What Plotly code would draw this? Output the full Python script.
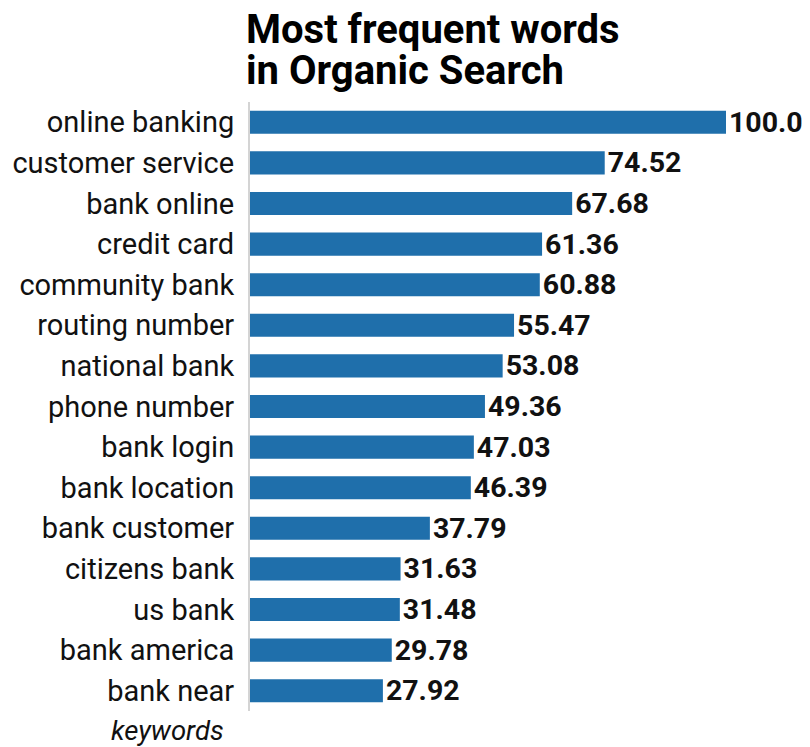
import plotly.graph_objects as go

keywords = [
    "online banking", "customer service", "bank online", "credit card",
    "community bank", "routing number", "national bank", "phone number",
    "bank login", "bank location", "bank customer", "citizens bank",
    "us bank", "bank america", "bank near",
]
scores = [100.0, 74.52, 67.68, 61.36, 60.88, 55.47, 53.08, 49.36,
          47.03, 46.39, 37.79, 31.63, 31.48, 29.78, 27.92]

title_lines = ["Most frequent words", "in Organic Search"]
axis_title = "keywords"

bar_color = "#1f6fab"

fig = go.Figure(
    go.Bar(
        x=scores,
        y=keywords,
        orientation="h",
        marker=dict(color=bar_color, line=dict(width=0)),
        width=0.57,
        text=[str(v) for v in scores],
        textposition="outside",
        constraintext="none",
        textfont=dict(family="Roboto", size=28.5, color="#111111", weight="bold"),
        cliponaxis=False,
    )
)

annotations = []
# two title lines, set tightly one above the other
for line, shift in zip(title_lines, [47, 6]):
    annotations.append(dict(
        text="<b>" + line + "</b>",
        xref="paper", yref="paper",
        x=0, y=1,
        xanchor="left", yanchor="bottom",
        xshift=-6, yshift=shift,
        align="left",
        showarrow=False,
        font=dict(family="Roboto", size=40, color="#000000"),
    ))
annotations.append(dict(
    text="<i>" + axis_title + "</i>",
    xref="paper", yref="paper",
    x=0, y=0,
    xanchor="right", yanchor="top",
    xshift=-24, yshift=-1,
    showarrow=False,
    font=dict(family="Roboto", size=27.5, color="#111111"),
))

fig.update_layout(
    width=810,
    height=747,
    margin=dict(l=248, r=84, t=102, b=36),
    paper_bgcolor="white",
    plot_bgcolor="white",
    showlegend=False,
    font=dict(family="Roboto", color="#111111"),
    xaxis=dict(
        range=[0, 100],
        visible=False,
        showgrid=False,
        zeroline=False,
    ),
    yaxis=dict(
        autorange="reversed",
        showgrid=False,
        zeroline=False,
        showline=True,
        linecolor="#d4d4d4",
        linewidth=2,
        ticks="",
        ticklabelstandoff=8,
        tickfont=dict(family="Roboto", size=29, color="#111111"),
    ),
    annotations=annotations,
)

fig.write_html("out.html")
